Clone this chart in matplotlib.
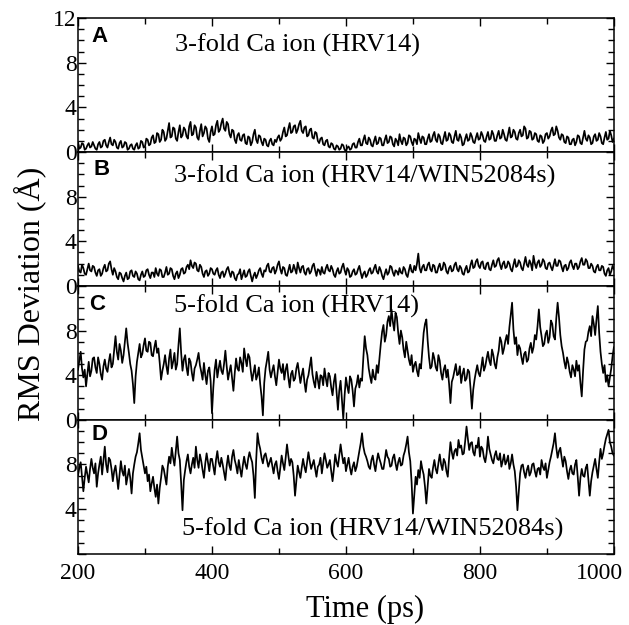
import matplotlib.pyplot as plt
import matplotlib.transforms as mtransforms
import numpy as np
from matplotlib.ticker import MultipleLocator

plt.rcParams['font.family'] = ['Liberation Serif', 'DejaVu Serif']

# sample times (ps), one value every 2 ps
time_ps = np.arange(200, 1001, 2)

# RMS deviation (Angstrom)
rms_a = [0.9, 0.3, 0.4, 0.8, 0.7, 0.2, 0.3, 0.6, 0.8, 0.4, 0.5, 0.9, 0.6, 0.3, 0.2, 0.7, 0.9, 0.4, 0.5, 1.0,
         1.1, 0.6, 0.4, 0.9, 1.3, 0.7, 0.6, 1.1, 0.9, 0.4, 0.3, 0.8, 1.0, 0.4, 0.5, 0.9, 0.8, 0.2, 0.3, 0.6,
         0.7, 0.3, 0.2, 0.6, 0.8, 0.3, 0.4, 1.0, 0.9, 0.4, 0.5, 1.2, 1.1, 0.6, 0.7, 1.3, 1.5, 0.8, 0.9, 1.7,
         1.6, 0.9, 1.1, 2.0, 1.8, 1.0, 1.2, 1.9, 2.6, 1.3, 1.4, 2.2, 2.1, 1.2, 1.0, 1.8, 2.4, 1.3, 1.5, 2.2,
         2.0, 1.4, 1.2, 2.3, 2.7, 1.5, 1.6, 2.4, 2.2, 1.3, 1.1, 1.9, 2.5, 1.4, 1.7, 2.3, 2.1, 1.2, 0.9, 1.8,
         2.3, 1.5, 1.6, 2.4, 2.8, 1.8, 2.0, 2.6, 3.0, 2.1, 1.9, 2.7, 2.5, 1.6, 1.3, 2.0, 1.9, 1.1, 0.8, 1.5,
         1.7, 1.1, 1.0, 1.5, 1.6, 0.8, 0.7, 1.4, 1.3, 0.6, 0.9, 1.6, 2.0, 1.1, 0.8, 1.5, 1.4, 0.9, 0.6, 1.2,
         1.1, 0.6, 0.5, 1.0, 1.2, 0.7, 0.6, 1.1, 0.9, 1.3, 1.5, 1.0, 1.2, 1.8, 2.2, 1.4, 1.5, 2.1, 2.6, 1.7,
         1.8, 2.3, 2.4, 1.7, 2.0, 2.5, 2.8, 1.9, 1.7, 2.2, 2.3, 1.4, 1.5, 2.0, 2.1, 1.3, 1.2, 1.8, 1.7, 1.0,
         0.8, 1.2, 1.3, 0.7, 0.6, 1.0, 1.1, 0.5, 0.4, 0.8, 0.7, 0.3, 0.2, 0.6, 0.5, 0.2, 0.3, 0.7, 0.6, 0.2,
         0.1, 0.4, 0.5, 0.2, 0.3, 0.7, 0.8, 0.4, 0.4, 0.9, 1.2, 0.6, 0.6, 1.1, 1.5, 0.8, 0.7, 1.3, 1.1, 0.6,
         0.5, 1.0, 1.4, 0.7, 0.8, 1.3, 1.2, 0.6, 0.6, 1.1, 1.5, 0.8, 0.9, 1.4, 1.3, 0.7, 0.5, 1.2, 1.0, 0.6,
         1.6, 1.0, 0.7, 1.3, 1.2, 0.6, 0.8, 1.5, 1.4, 0.9, 0.6, 1.2, 1.1, 0.7, 1.7, 1.2, 0.8, 1.4, 1.3, 0.7,
         0.7, 1.2, 1.6, 0.9, 1.0, 1.5, 1.8, 1.1, 0.9, 1.6, 1.4, 0.8, 0.7, 1.3, 1.8, 1.0, 1.1, 1.7, 1.5, 0.9,
         0.8, 1.4, 1.9, 1.1, 1.0, 1.6, 1.3, 0.6, 0.7, 1.2, 1.6, 1.0, 1.1, 1.7, 1.4, 0.9, 0.8, 1.3, 1.7, 1.1,
         1.2, 1.8, 1.5, 1.0, 0.9, 1.4, 1.8, 1.1, 1.2, 1.9, 1.6, 1.0, 1.0, 1.5, 1.9, 1.2, 1.3, 2.0, 1.6, 1.1,
         1.0, 1.6, 2.2, 1.3, 1.4, 2.0, 1.8, 1.2, 1.1, 1.7, 2.0, 1.4, 1.5, 2.3, 2.1, 1.2, 1.3, 1.9, 1.8, 1.1,
         1.2, 1.7, 1.6, 1.0, 0.9, 1.5, 1.4, 0.8, 1.0, 1.6, 1.7, 1.2, 1.4, 1.9, 2.2, 1.5, 1.6, 2.3, 1.9, 1.3,
         1.1, 1.6, 1.5, 0.9, 0.8, 1.4, 1.3, 0.7, 0.7, 1.1, 1.2, 0.6, 0.9, 1.5, 1.4, 0.8, 0.7, 1.3, 1.9, 1.2,
         1.0, 1.5, 1.3, 0.7, 0.8, 1.4, 1.6, 1.0, 1.1, 1.7, 1.4, 0.8, 0.7, 1.3, 1.8, 1.1, 1.2, 1.9, 1.5, 0.9,
         1.2]

rms_b = [1.8, 1.3, 1.2, 1.9, 1.6, 1.1, 1.0, 1.5, 2.0, 1.4, 1.3, 1.8, 1.7, 1.2, 0.9, 1.4, 1.5, 0.9, 1.1, 1.6,
         1.9, 1.3, 1.4, 2.0, 2.2, 1.5, 1.0, 1.6, 1.3, 0.8, 0.6, 1.2, 1.1, 0.7, 0.4, 0.9, 1.2, 0.6, 0.7, 1.3,
         1.4, 0.9, 0.8, 1.3, 1.1, 0.6, 0.5, 1.0, 1.3, 0.8, 0.9, 1.4, 1.5, 1.0, 0.7, 1.2, 1.2, 0.8, 1.6, 1.1,
         0.9, 1.5, 1.4, 0.8, 0.8, 1.2, 1.7, 1.0, 1.1, 1.6, 1.5, 0.9, 0.6, 1.1, 1.3, 0.7, 1.0, 1.5, 1.6, 1.1,
         1.2, 1.7, 1.9, 1.5, 2.3, 1.8, 1.6, 2.1, 2.0, 1.4, 1.3, 1.9, 1.7, 1.1, 0.8, 1.3, 1.4, 0.9, 1.1, 1.6,
         1.5, 1.1, 1.0, 1.4, 1.6, 1.0, 0.7, 1.2, 1.3, 0.8, 1.1, 1.5, 1.7, 1.2, 0.8, 1.3, 1.2, 0.7, 0.5, 1.0,
         1.1, 1.5, 0.6, 1.0, 1.4, 0.8, 0.9, 1.3, 1.5, 0.9, 0.4, 0.9, 1.2, 0.7, 1.0, 1.4, 1.6, 1.1, 0.8, 1.4,
         1.3, 1.8, 2.0, 1.3, 1.2, 1.6, 1.7, 1.1, 1.4, 1.9, 2.2, 1.5, 1.1, 1.7, 1.6, 1.0, 0.9, 1.4, 1.9, 1.2,
         1.3, 1.9, 1.5, 1.1, 2.1, 1.6, 1.2, 1.7, 1.8, 1.2, 1.0, 1.5, 1.6, 1.1, 1.3, 1.8, 2.0, 1.4, 0.9, 1.5,
         1.4, 1.0, 1.7, 1.2, 1.1, 1.6, 1.9, 1.4, 1.3, 1.8, 1.5, 1.0, 0.8, 1.3, 1.6, 1.1, 1.2, 1.7, 2.0, 1.4,
         1.0, 1.6, 1.4, 0.8, 0.9, 1.3, 1.5, 1.0, 1.1, 1.5, 1.8, 1.2, 0.7, 1.1, 1.3, 0.8, 1.0, 1.4, 1.6, 1.1,
         1.2, 1.6, 1.9, 1.3, 1.1, 1.7, 1.4, 0.9, 0.6, 1.1, 1.5, 1.0, 1.2, 1.8, 1.7, 1.2, 0.9, 1.4, 1.3, 1.0,
         1.6, 1.2, 1.1, 1.7, 1.5, 1.0, 0.8, 1.4, 1.9, 1.3, 1.2, 1.8, 1.4, 2.0, 2.9, 1.6, 1.2, 1.7, 1.9, 1.4,
         1.4, 1.9, 2.1, 1.5, 1.3, 1.9, 1.8, 1.2, 1.2, 1.7, 2.0, 1.4, 1.5, 2.1, 1.9, 1.3, 1.1, 1.6, 1.8, 1.3,
         1.4, 1.9, 2.1, 1.5, 1.3, 1.8, 1.6, 1.1, 1.0, 1.5, 1.8, 1.2, 1.3, 1.9, 2.3, 1.6, 1.7, 2.2, 2.4, 1.8,
         1.6, 2.1, 2.2, 1.6, 1.5, 2.0, 2.1, 1.5, 1.4, 1.9, 2.3, 1.7, 1.8, 2.3, 2.5, 1.9, 1.5, 2.0, 2.2, 1.6,
         1.7, 2.2, 2.0, 1.5, 1.3, 1.9, 2.4, 1.7, 1.8, 2.3, 2.1, 1.6, 1.4, 2.0, 2.6, 1.9, 1.7, 2.3, 2.0, 1.4,
         2.7, 2.0, 1.6, 2.1, 2.3, 1.7, 1.9, 2.4, 2.2, 1.6, 1.5, 2.0, 2.1, 1.7, 1.4, 1.9, 2.4, 1.8, 1.8, 2.3,
         2.2, 1.7, 1.3, 1.8, 1.9, 1.4, 1.6, 2.1, 2.3, 1.8, 1.5, 2.0, 2.0, 1.5, 1.7, 2.2, 2.5, 1.9, 1.9, 2.4,
         2.2, 1.6, 1.6, 2.0, 1.8, 1.3, 1.2, 1.7, 1.9, 1.4, 1.4, 1.8, 1.7, 1.1, 0.9, 1.4, 1.6, 1.0, 1.3, 1.8,
         1.5]

rms_c = [4.5, 5.3, 6.1, 4.6, 3.8, 4.5, 3.0, 4.1, 5.2, 3.9, 4.4, 5.5, 5.6, 4.7, 4.2, 5.6, 5.0, 4.1, 3.6, 4.8,
         5.4, 4.6, 4.3, 5.2, 5.9, 4.7, 5.0, 6.3, 7.5, 6.1, 5.4, 6.8, 6.2, 5.1, 5.8, 7.0, 8.2, 6.9, 6.0, 5.0,
         4.4, 3.2, 1.5, 3.9, 5.2, 6.0, 6.8, 5.6, 5.9, 6.7, 7.3, 6.2, 6.1, 7.0, 6.9, 5.8, 5.7, 6.5, 7.1, 6.0,
         6.4, 5.1, 3.6, 4.4, 5.0, 5.8, 4.8, 4.1, 5.5, 6.3, 4.6, 5.2, 6.0, 4.5, 5.0, 6.7, 8.2, 6.0, 4.4, 5.4,
         5.8, 4.7, 4.0, 5.5, 5.2, 4.2, 3.5, 4.6, 4.9, 5.4, 6.0, 4.9, 4.3, 3.6, 5.1, 4.0, 3.2, 4.4, 4.7, 3.5,
         0.6, 2.9, 4.5, 5.4, 3.8, 4.6, 5.3, 4.4, 4.1, 5.0, 6.2, 4.8, 3.6, 4.3, 4.9, 3.7, 2.6, 4.2, 5.5, 4.6,
         4.4, 5.6, 5.1, 4.3, 6.4, 5.5, 4.8, 5.9, 5.6, 4.4, 3.5, 4.2, 4.9, 3.6, 4.0, 4.7, 3.2, 2.1, 0.4, 3.3,
         4.6, 5.3, 6.1, 4.5, 3.8, 4.4, 4.9, 3.9, 3.1, 4.3, 5.4, 4.6, 4.2, 5.0, 3.6, 4.5, 5.0, 3.8, 2.9, 4.1,
         4.4, 3.5, 3.7, 4.6, 5.1, 4.2, 3.3, 4.0, 4.6, 3.4, 2.5, 3.6, 4.0, 4.8, 5.6, 4.1, 3.4, 2.9, 4.3, 3.6,
         2.8, 4.0, 3.9, 3.1, 4.6, 3.7, 3.0, 4.2, 3.9, 2.9, 2.2, 3.4, 4.1, 2.5, 0.9, 2.6, 3.5, 1.8, 0.1, 2.2,
         3.8, 3.0, 2.4, 3.9, 3.6, 2.6, 1.2, 2.8, 3.2, 4.0, 2.9, 3.7, 3.5, 5.6, 7.5, 6.4, 5.8, 4.6, 3.9, 3.3,
         4.5, 3.8, 3.6, 4.9, 4.2, 5.5, 6.8, 7.9, 8.5, 7.0, 7.6, 8.8, 9.3, 8.4, 9.9, 8.8, 8.0, 9.6, 9.2, 7.8,
         6.8, 8.0, 7.4, 6.3, 5.6, 7.0, 6.2, 5.4, 4.9, 5.8, 4.3, 4.9, 5.2, 4.4, 3.9, 5.0, 4.6, 6.2, 7.8, 8.6,
         9.0, 7.1, 5.6, 4.6, 4.8, 6.0, 5.5, 4.7, 4.4, 5.8, 5.3, 4.2, 3.6, 4.5, 4.9, 3.8, 4.5, 3.2, 1.5, 3.4,
         3.8, 4.4, 5.0, 4.0, 4.1, 4.8, 3.3, 4.1, 4.6, 3.5, 3.7, 4.5, 4.3, 2.8, 1.0, 2.7, 3.6, 4.3, 4.9, 4.2,
         3.9, 4.7, 5.6, 4.4, 4.8, 5.5, 6.1, 5.3, 4.9, 6.3, 5.8, 5.0, 4.6, 5.6, 6.2, 7.4, 7.0, 5.9, 6.4, 7.1,
         7.6, 6.8, 8.3, 9.4, 10.5, 8.1, 6.8, 7.4, 5.8, 6.7, 6.4, 5.6, 5.0, 5.9, 6.1, 5.2, 5.4, 6.4, 6.9, 6.0,
         6.5, 7.6, 7.2, 8.4, 9.9, 8.3, 7.5, 6.6, 6.8, 7.7, 8.0, 6.9, 7.4, 8.9, 8.6, 7.5, 7.2, 9.1, 10.5, 9.2,
         7.6, 6.6, 6.0, 5.2, 4.6, 5.6, 5.1, 4.3, 3.8, 4.9, 4.5, 3.9, 5.3, 4.4, 4.9, 3.3, 2.1, 4.4, 6.3, 7.0,
         7.1, 7.9, 8.4, 7.5, 9.3, 8.6, 7.6, 9.0, 10.2, 7.8, 6.1, 5.0, 4.2, 4.9, 3.4, 4.0, 3.0, 3.8, 4.6, 5.7,
         6.5]

rms_d = [7.0, 7.7, 8.2, 6.9, 5.6, 6.8, 7.8, 7.1, 6.4, 7.6, 8.5, 7.7, 7.2, 8.1, 6.0, 7.2, 8.0, 8.7, 7.1, 8.3,
         9.6, 8.0, 7.3, 8.6, 8.4, 7.6, 6.5, 7.4, 7.9, 6.9, 5.8, 7.1, 8.3, 7.4, 7.0, 7.9, 6.2, 6.9, 7.6, 6.8,
         5.4, 7.2, 8.0, 8.7, 9.1, 9.9, 10.8, 9.3, 8.6, 7.9, 7.2, 7.8, 6.5, 7.1, 5.6, 6.3, 6.9, 5.9, 5.1, 6.2,
         4.5, 5.9, 6.8, 7.9, 7.6, 6.9, 6.2, 7.8, 8.7, 8.1, 9.5, 8.6, 7.9, 9.2, 10.5, 9.0, 8.4, 6.3, 3.9, 6.6,
         7.5, 8.3, 8.9, 7.8, 7.2, 8.0, 8.6, 7.7, 9.6, 8.4, 7.7, 8.9, 8.3, 7.5, 6.8, 8.1, 9.0, 8.2, 7.4, 8.5,
         8.5, 7.8, 7.1, 8.4, 9.2, 8.2, 7.8, 8.6, 8.0, 7.3, 6.6, 7.9, 8.8, 7.9, 7.5, 8.7, 9.3, 8.4, 7.9, 7.2,
         8.4, 7.6, 6.9, 7.9, 8.7, 8.0, 7.6, 8.5, 9.1, 8.6, 8.2, 7.0, 5.0, 8.4, 10.8, 9.9, 9.4, 8.6, 8.1, 8.8,
         9.0, 8.4, 7.8, 8.2, 8.6, 7.9, 7.2, 8.0, 8.3, 7.4, 6.7, 7.7, 8.8, 8.1, 7.5, 8.6, 9.8, 8.8, 7.9, 8.5,
         8.2, 7.0, 5.2, 6.6, 7.9, 7.3, 6.8, 7.7, 8.5, 7.8, 7.3, 8.2, 9.1, 8.3, 7.6, 8.0, 8.4, 7.6, 6.9, 7.8,
         8.0, 8.6, 7.2, 8.1, 9.0, 8.4, 7.7, 8.0, 8.4, 7.4, 6.5, 7.6, 8.9, 8.2, 7.8, 8.8, 9.8, 8.9, 8.1, 8.6,
         7.4, 8.0, 8.6, 7.7, 7.1, 7.8, 8.2, 7.4, 7.8, 8.5, 9.2, 9.9, 10.8, 9.6, 9.0, 8.7, 8.3, 7.8, 7.6, 8.4,
         8.8, 8.0, 7.4, 8.3, 9.0, 8.5, 8.1, 7.6, 7.6, 8.4, 9.3, 8.7, 8.5, 7.8, 7.9, 8.6, 8.9, 8.1, 7.5, 8.2,
         8.6, 7.9, 8.0, 8.8, 9.2, 9.8, 10.5, 9.1, 8.3, 6.4, 3.6, 5.3, 6.9, 6.2, 7.5, 6.8, 8.3, 7.6, 7.1, 6.0,
         4.5, 6.1, 7.6, 7.0, 6.8, 7.7, 8.4, 7.6, 7.2, 8.1, 8.9, 8.0, 7.5, 8.5, 8.2, 7.4, 6.9, 8.6, 10.0, 9.1,
         8.5, 9.2, 9.4, 8.8, 10.2, 9.5, 9.7, 8.9, 9.0, 10.1, 11.4, 10.3, 9.3, 9.9, 10.0, 9.1, 8.8, 9.7, 9.5, 10.4,
         8.7, 9.6, 9.4, 8.6, 8.2, 9.0, 10.5, 9.4, 8.9, 8.4, 8.1, 8.8, 9.2, 8.5, 8.4, 9.0, 7.8, 8.3, 8.9, 8.0,
         8.3, 8.8, 7.6, 8.1, 8.9, 8.0, 7.4, 6.0, 3.9, 5.6, 7.2, 7.9, 8.0, 7.3, 6.8, 7.5, 7.9, 7.0, 7.3, 8.0,
         8.1, 7.4, 6.9, 7.6, 7.7, 7.1, 8.4, 7.8, 7.5, 8.1, 6.8, 7.5, 8.2, 8.7, 9.3, 9.9, 10.8, 9.5, 8.6, 9.2,
         9.5, 8.6, 7.8, 8.7, 8.3, 7.4, 6.7, 7.5, 7.9, 7.2, 7.1, 8.0, 8.4, 6.9, 5.2, 6.8, 7.6, 7.0, 6.9, 7.7,
         8.0, 6.6, 5.2, 6.5, 7.3, 7.9, 8.5, 7.6, 6.8, 8.2, 9.4, 8.5, 9.0, 9.7, 10.3, 10.7, 11.1, 10.0, 9.6, 9.0,
         8.8]

series = [rms_a, rms_b, rms_c, rms_d]
panel_letters = ['A', 'B', 'C', 'D']
panel_titles = ['3-fold Ca ion (HRV14)',
                '3-fold Ca ion (HRV14/WIN52084s)',
                '5-fold Ca ion (HRV14)',
                '5-fold Ca ion (HRV14/WIN52084s)']
ytick_vals = [0, 4, 8, 12]
ytick_labels = [['0', '4', '8', '12'],
                ['0', '4', '8', ''],
                ['0', '4', '8', ''],
                ['', '4', '8', '']]
xtick_vals = [200, 400, 600, 800, 1000]

# where the captions sit in each panel (axes fraction)
title_pos = [(0.181, 0.80), (0.179, 0.82), (0.180, 0.85), (0.194, 0.18)]
letter_pos = [(0.026, 0.86), (0.028, 0.87), (0.020, 0.86), (0.026, 0.89)]

fig, axes = plt.subplots(4, 1, figsize=(6.29, 6.25), dpi=100, sharex=True)
fig.subplots_adjust(left=0.124, right=0.976, top=0.971, bottom=0.114, hspace=0)

for i, ax in enumerate(axes):
    ax.plot(time_ps, series[i], color='black', linewidth=1.25)
    ax.set_xlim(200, 1000)
    ax.set_ylim(0, 12)
    ax.set_yticks(ytick_vals)
    ax.set_yticklabels(ytick_labels[i])
    ax.yaxis.set_minor_locator(MultipleLocator(1))
    ax.set_xticks(xtick_vals)
    ax.xaxis.set_minor_locator(MultipleLocator(100))
    ax.tick_params(which='both', direction='in', top=True, right=True,
                   labelsize=17, width=1.0)
    ax.tick_params(axis='y', which='both', pad=1)
    ax.tick_params(axis='x', pad=7)
    ax.tick_params(which='major', length=6)
    ax.tick_params(which='minor', length=4)
    for sp in ax.spines.values():
        sp.set_linewidth(1.1)

    ax.text(letter_pos[i][0], letter_pos[i][1], panel_letters[i],
            transform=ax.transAxes, ha='left', va='center',
            fontsize=16, fontweight='bold', family=['Liberation Sans', 'DejaVu Sans'])
    ax.text(title_pos[i][0], title_pos[i][1], panel_titles[i],
            transform=ax.transAxes, ha='left', va='center', fontsize=19)

# the last x label sits a little left of its tick, as in the original
last_lab = axes[-1].get_xticklabels()[-1]
last_lab.set_transform(last_lab.get_transform() +
                       mtransforms.ScaledTranslation(-14 / 100, 0, fig.dpi_scale_trans))

fig.text(0.048, 0.53, 'RMS Deviation (Å)', rotation=90, ha='center', va='center',
         fontsize=23)
fig.text(0.58, 0.012, 'Time (ps)', ha='center', va='baseline', fontsize=22)

fig.savefig('out.png', dpi=100)
